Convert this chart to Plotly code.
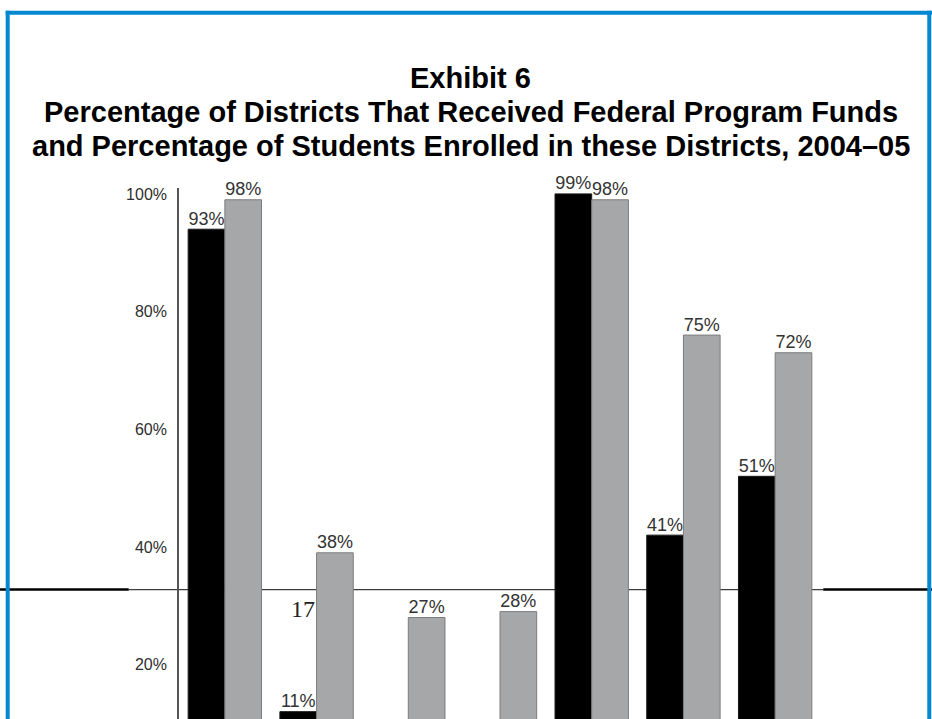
import plotly.graph_objects as go

# Federal programs (one group of bars each) and the two shares per program
programs = ["Program 1", "Program 2", "Program 3", "Program 4",
            "Program 5", "Program 6", "Program 7"]
pct_districts = [93, 11, 8, 8, 99, 41, 51]
pct_students = [98, 38, 27, 28, 98, 75, 72]

tick_vals = [20, 40, 60, 80, 100]
tick_text = ["20%", "40%", "60%", "80%", "100%"]

title_lines = [
    "Exhibit 6",
    "Percentage of Districts That Received Federal Program Funds",
    "and Percentage of Students Enrolled in these Districts, 2004–05",
]

W, H = 932, 719
ML, MR, MT, MB = 179.2, 111.2, 187.5, 0
PW, PH = W - ML - MR, H - MT - MB


def px(x):
    """Pixel x -> paper x."""
    return (x - ML) / PW


def py(y):
    """Pixel y (from top) -> paper y."""
    return (H - MB - y) / PH


label_font = dict(family="Liberation Sans, Arial", size=18, color="#333333")

fig = go.Figure()
series = [
    ("Districts", pct_districts, "#000000", "#1a1a1a"),
    ("Students", pct_students, "#a6a7a9", "#7c7c7c"),
]
for name, vals, fill, edge in series:
    fig.add_trace(go.Bar(
        x=programs, y=vals, name=name, offsetgroup=name,
        marker=dict(color=fill, line=dict(color=edge, width=1)),
    ))
# value labels, grouped the same way as the bars so they sit on each bar
for name, vals, fill, edge in series:
    fig.add_trace(go.Scatter(
        x=programs, y=vals, name=name + " labels", offsetgroup=name,
        mode="text", text=[f"{v}%" for v in vals],
        textposition="top center", textfont=label_font,
        cliponaxis=False, hoverinfo="skip",
    ))

shapes = [
    # rule across the page behind the bars
    dict(type="line", xref="paper", yref="paper", layer="below",
         x0=px(0), x1=px(129), y0=py(589.5), y1=py(589.5),
         line=dict(color="#000000", width=2.5)),
    dict(type="line", xref="paper", yref="paper", layer="below",
         x0=px(129), x1=px(823), y0=py(589.5), y1=py(589.5),
         line=dict(color="#3c3c3c", width=1.3)),
    dict(type="line", xref="paper", yref="paper", layer="below",
         x0=px(823), x1=px(932), y0=py(589.5), y1=py(589.5),
         line=dict(color="#000000", width=2.5)),
    # blue frame
    dict(type="rect", xref="paper", yref="paper", layer="above",
         x0=px(6), x1=px(10), y0=py(725), y1=py(10),
         fillcolor="#0288d1", line=dict(width=0)),
    dict(type="rect", xref="paper", yref="paper", layer="above",
         x0=px(6), x1=px(932), y0=py(14), y1=py(10),
         fillcolor="#0288d1", line=dict(width=0)),
    dict(type="rect", xref="paper", yref="paper", layer="above",
         x0=px(927), x1=px(931), y0=py(725), y1=py(10),
         fillcolor="#0288d1", line=dict(width=0)),
]

annotations = []
for text, yc in zip(title_lines, [77, 111, 145]):
    annotations.append(dict(
        text=f"<b>{text}</b>", xref="paper", yref="paper",
        x=px(471), y=py(yc), xanchor="center", yanchor="middle",
        showarrow=False,
        font=dict(family="Liberation Sans, Arial", size=29, color="#000000"),
    ))
annotations.append(dict(
    text="17", xref="paper", yref="paper", x=px(317), y=py(608.5),
    xanchor="right", yanchor="middle", showarrow=False,
    font=dict(family="Liberation Serif, Times New Roman", size=24, color="#222222"),
))

fig.update_layout(
    width=W, height=H,
    margin=dict(l=ML, r=MR, t=MT, b=MB, autoexpand=False),
    paper_bgcolor="white", plot_bgcolor="rgba(0,0,0,0)",
    barmode="group", bargap=0.2, bargroupgap=0,
    scattermode="group", scattergap=0.2,
    showlegend=False,
    shapes=shapes, annotations=annotations,
    xaxis=dict(showticklabels=False, showgrid=False, zeroline=False,
               showline=False, ticks="", range=[-0.5, 6.5]),
    yaxis=dict(range=[9.75, 100], tickvals=tick_vals, ticktext=tick_text,
               showgrid=False, zeroline=False, showline=True,
               linecolor="#555555", linewidth=1.6, ticks="",
               ticklabelstandoff=7, ticklabelshift=6,
               tickfont=dict(family="Liberation Sans, Arial",
                             size=16, color="#2e2e2e")),
)

fig.write_html("out.html")
